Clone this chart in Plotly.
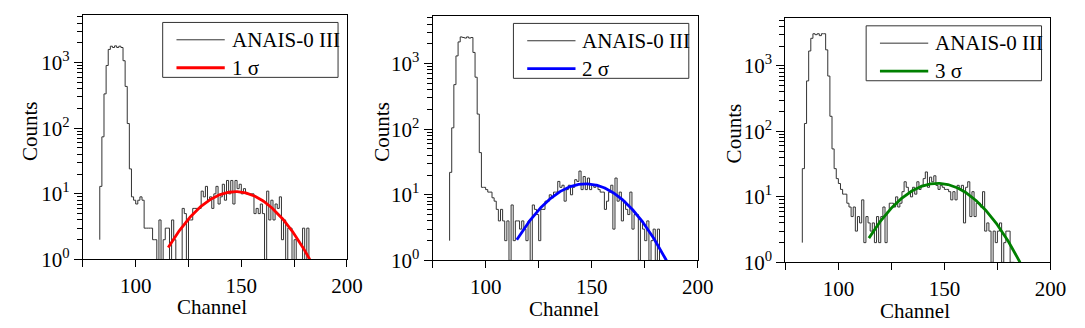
import numpy as np
import plotly.graph_objects as go

# ---------------- data ----------------
channels = list(range(83, 184))

counts_1sigma = [
    2, 13, 74, 334, 905, 1590, 1780, 1700, 1800, 1700, 1780, 1700, 1070, 434, 118, 24,  # 83-98
    9, 8, 7, 8, 9, 8,                                                                   # 99-104
    3, 3, 3, 3, 2, 2, 1, 4, 1, 2, 3, 3, 1, 4, 2, 1, 1, 1,                               # 105-122
    6, 5, 1, 4, 4, 6, 6, 6, 6, 11, 9, 13, 8, 9, 6, 10, 13, 7, 9, 14, 8, 16, 10, 16,      # 123-146
    7, 16, 12, 14, 10, 12, 10, 10, 10, 10, 5, 6, 5, 7, 5, 1, 11, 4, 8, 4, 7, 6, 9, 2,    # 147-170
    4, 1, 3, 3, 1, 2, 1, 1, 1, 3, 1, 3, 1,                                              # 171-183
]

counts_2sigma = [
    2, 22, 105, 478, 1310, 2140, 2550, 2500, 2450, 2550, 2450, 2500, 1480, 620, 170, 44,  # 83-98
    13, 13, 12, 11, 11, 9,                                                                # 99-104
    8, 6, 4, 6, 4, 2, 4, 1, 7, 2, 4, 4, 3, 4, 3, 2, 4, 1,                                 # 105-122
    7, 6, 5, 2, 6, 6, 8, 8, 10, 9, 11, 11, 16, 13, 14, 8, 12, 14, 10, 13, 17, 16, 23, 12,  # 123-146
    19, 12, 18, 12, 14, 13, 14, 12, 11, 11, 6, 8, 11, 14, 3, 18, 8, 11, 4, 8, 6, 5, 11, 3, # 147-170
    5, 5, 1, 4, 3, 2, 4, 1, 2, 3, 1, 3, 1,                                                # 171-183
]

counts_3sigma = [
    2, 27, 132, 590, 1690, 2640, 3100, 3000, 3100, 2900, 3100, 3100, 1760, 700, 170, 54,  # 83-98
    27, 19, 16, 13, 11, 11,                                                               # 99-104
    8, 7, 5, 7, 3, 5, 4, 9, 2, 5, 4, 3, 4, 2, 5, 2, 5, 7,                                 # 105-122
    2, 6, 8, 8, 7, 10, 7, 8, 12, 17, 14, 12, 10, 14, 11, 17, 13, 15, 19, 24, 14, 20, 17, 21,  # 123-146
    15, 13, 15, 14, 13, 13, 12, 9, 12, 9, 15, 13, 15, 4, 14, 17, 5, 12, 5, 8, 8, 7, 12, 3,    # 147-170
    4, 3, 1, 3, 2, 3, 4, 1, 2, 3, 3, 1, 1,                                                # 171-183
]

# Gaussian fit parameters: amplitude, centre, sigma, start channel, end channel
fit_1sigma = dict(amp=10.8, mu=147.3, sigma=16.1, x0=115.4, x1=182.4)
fit_2sigma = dict(amp=14.7, mu=147.2, sigma=16.4, x0=114.7, x1=185.3)
fit_3sigma = dict(amp=16.1, mu=146.8, sigma=16.5, x0=114.4, x1=185.7)

series_name = "ANAIS-0 III"
fit_names = ["1 σ", "2 σ", "3 σ"]
fit_colors = ["#ff0000", "#0000ff", "#008000"]
x_title = "Channel"
y_title = "Counts"

x_major = [100, 150, 200]
x_minor = [75, 125, 175]
y_tickvals = [1, 10, 100, 1000]
y_ticktext = ["10<sup>0</sup>", "10<sup>1</sup>", "10<sup>2</sup>", "10<sup>3</sup>"]
y_minor = [m * d for d in (1, 10, 100, 1000) for m in range(2, 10) if m * d <= 5000]

# ---------------- layout geometry (pixels) ----------------
W, H = 1085, 328
x_dom_px = [(76, 344), (431, 700), (789, 1058)]
y_dom_px = [(7, 261), (8, 262), (10.5, 264)]
xtitle_pos = [(207, 310), (564, 312), (921, 314)]
ytitle_pos = [(23, 128), (380, 128), (737, 130)]

FONT = '"Liberation Serif", "Times New Roman", Times, serif'
TXT = dict(family=FONT, size=21, color="black")


def px(xp):
    return xp / W


def py(yp):
    return 1 - yp / H


fig = go.Figure()
counts_all = [counts_1sigma, counts_2sigma, counts_3sigma]
fits = [fit_1sigma, fit_2sigma, fit_3sigma]
shapes, annotations = [], []

for i in range(3):
    sfx = "" if i == 0 else str(i + 1)
    fig.add_trace(go.Scatter(
        x=channels, y=counts_all[i], mode="lines", line_shape="vh",
        line=dict(color="#333333", width=1), name=series_name,
        xaxis="x" + sfx, yaxis="y" + sfx, showlegend=False,
    ))
    f = fits[i]
    xf = np.linspace(f["x0"], f["x1"], 200)
    yf = f["amp"] * np.exp(-(xf - f["mu"]) ** 2 / (2 * f["sigma"] ** 2))
    fig.add_trace(go.Scatter(
        x=xf, y=yf, mode="lines", line=dict(color=fit_colors[i], width=2.8),
        name=fit_names[i], xaxis="x" + sfx, yaxis="y" + sfx, showlegend=False,
    ))

    L, R = x_dom_px[i]
    T, B = y_dom_px[i]
    fig.layout["xaxis" + sfx] = dict(
        domain=[px(L), px(R)], range=[75, 200], anchor="y" + sfx,
        tickmode="array", tickvals=x_major,
        ticks="outside", ticklen=7, tickwidth=1, tickcolor="black",
        minor=dict(tickmode="array", tickvals=x_minor, ticks="outside", ticklen=7,
                   tickwidth=1, tickcolor="black", showgrid=False),
        showline=True, linecolor="black", linewidth=1, mirror=True,
        showgrid=False, zeroline=False, tickfont=TXT,
    )
    fig.layout["yaxis" + sfx] = dict(
        domain=[py(B), py(T)], type="log", range=[0, 3.73], anchor="x" + sfx,
        tickmode="array", tickvals=y_tickvals, ticktext=y_ticktext,
        ticks="outside", ticklen=8, tickwidth=1, tickcolor="black",
        minor=dict(tickmode="array", tickvals=y_minor, ticks="outside", ticklen=5,
                   tickwidth=1, tickcolor="black", showgrid=False),
        showline=True, linecolor="black", linewidth=1, mirror=True,
        showgrid=False, zeroline=False, tickfont=TXT,
    )

    # axis titles
    annotations.append(dict(text=x_title, x=px(xtitle_pos[i][0]), y=py(xtitle_pos[i][1]),
                            xref="paper", yref="paper", showarrow=False,
                            xanchor="center", yanchor="middle", font=TXT))
    annotations.append(dict(text=y_title, x=px(ytitle_pos[i][0]), y=py(ytitle_pos[i][1]),
                            xref="paper", yref="paper", showarrow=False, textangle=-90,
                            xanchor="center", yanchor="middle", font=TXT))

    # legend box
    box_l, box_r = R - 187, R - 9
    box_t, box_b = T + 8, T + 65
    shapes.append(dict(type="rect", xref="paper", yref="paper",
                       x0=px(box_l), x1=px(box_r), y0=py(box_b), y1=py(box_t),
                       line=dict(color="#333333", width=1), fillcolor="white", layer="above"))
    rows = [T + 26, T + 55]
    samples = [dict(color="#333333", width=1), dict(color=fit_colors[i], width=2.8)]
    labels = [series_name, fit_names[i]]
    for r, smp, lab in zip(rows, samples, labels):
        shapes.append(dict(type="line", xref="paper", yref="paper",
                           x0=px(R - 173), x1=px(R - 124), y0=py(r), y1=py(r),
                           line=smp, layer="above"))
        annotations.append(dict(text=lab, x=px(R - 119), y=py(r), xref="paper", yref="paper",
                                showarrow=False, xanchor="left", yanchor="middle", font=TXT))

fig.update_layout(
    width=W, height=H,
    margin=dict(l=0, r=0, t=0, b=0),
    paper_bgcolor="white", plot_bgcolor="white",
    showlegend=False,
    font=TXT,
    shapes=shapes, annotations=annotations,
)

fig.write_html("out.html")
